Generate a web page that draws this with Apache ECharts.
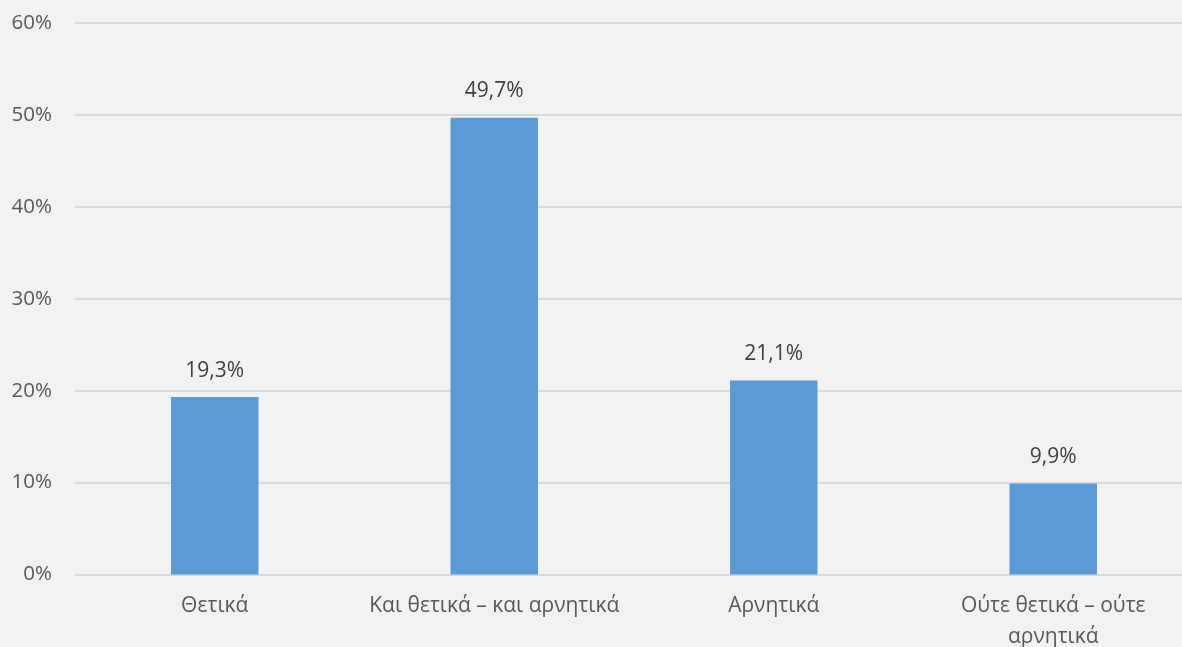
<!DOCTYPE html>
<html><head><meta charset="utf-8">
<script src="https://cdn.jsdelivr.net/npm/echarts@6/dist/echarts.min.js"></script>
<style>html,body{margin:0;padding:0;background:#f2f2f2}#c{width:1182px;height:647px}</style>
</head><body><div id="c"></div>
<script>
const categories = ["Θετικά", "Και θετικά – και αρνητικά", "Αρνητικά", "Ούτε θετικά – ούτε\nαρνητικά"];
const values = [19.3, 49.7, 21.1, 9.9];
const yTicks = [0, 10, 20, 30, 40, 50, 60];

const chart = echarts.init(document.getElementById('c'));
chart.setOption({
  backgroundColor: '#f2f2f2',
  animation: false,
  textStyle: { fontFamily: '"Open Sans", sans-serif' },
  grid: { left: 75, top: 23, width: 1118, height: 551.5, containLabel: false, outerBoundsMode: 'none' },
  xAxis: {
    type: 'category', data: categories,
    axisLine: { show: false }, axisTick: { show: false },
    axisLabel: { color: '#595959', fontSize: 21, lineHeight: 31, margin: 16, interval: 0 }
  },
  yAxis: {
    type: 'value', min: yTicks[0], max: yTicks[yTicks.length - 1], interval: 10,
    axisLine: { show: false }, axisTick: { show: false },
    splitLine: { lineStyle: { color: '#d9d9d9', width: 2 } },
    axisLabel: { color: '#595959', fontSize: 20.5, margin: 23, formatter: v => v + '%' }
  },
  series: [{
    type: 'bar', data: values, barWidth: '31.3%',
    itemStyle: { color: '#5b9bd5' },
    label: { show: true, position: 'top', distance: 16, color: '#404040', fontSize: 21,
      formatter: p => p.value.toFixed(1).replace('.', ',') + '%' }
  }]
});
</script></body></html>
